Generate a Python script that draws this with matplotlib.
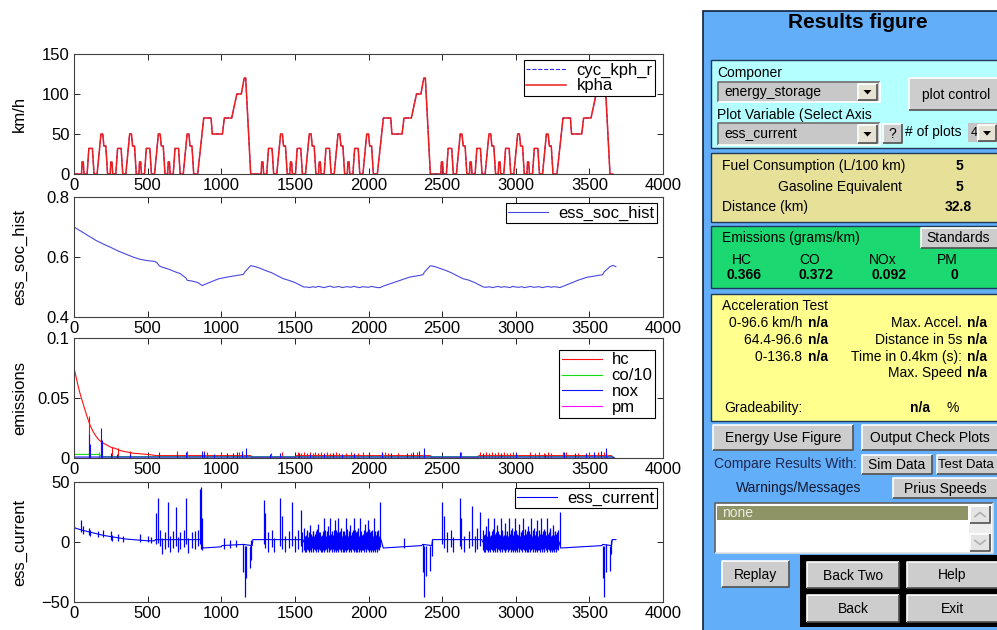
import matplotlib
matplotlib.use('Agg')
import matplotlib.pyplot as plt
from matplotlib.patches import Rectangle, Polygon

plt.rcParams['font.family'] = ['Liberation Sans', 'DejaVu Sans']

# ---------------- data ----------------
kph_t = [0,
    51, 55, 63, 68, 89, 101, 125, 136, 157, 183, 195, 203, 216, 228,
    246, 250, 258, 263, 284, 296, 320, 331, 352, 378, 390, 398, 411, 423,
    441, 445, 453, 458, 479, 491, 515, 526, 547, 573, 585, 593, 606, 618,
    636, 640, 648, 653, 674, 686, 710, 721, 742, 768, 780, 788, 801, 813,
    840, 881, 931, 939, 1008, 1021, 1071, 1106, 1136, 1156, 1166, 1200,
    1271, 1275, 1283, 1288, 1309, 1321, 1345, 1356, 1377, 1403, 1415, 1423, 1436, 1448,
    1466, 1470, 1478, 1483, 1504, 1516, 1540, 1551, 1572, 1598, 1610, 1618, 1631, 1643,
    1661, 1665, 1673, 1678, 1699, 1711, 1735, 1746, 1767, 1793, 1805, 1813, 1826, 1838,
    1856, 1860, 1868, 1873, 1894, 1906, 1930, 1941, 1962, 1988, 2000, 2008, 2021, 2033,
    2060, 2101, 2151, 2159, 2228, 2241, 2291, 2326, 2356, 2376, 2386, 2420,
    2491, 2495, 2503, 2508, 2529, 2541, 2565, 2576, 2597, 2623, 2635, 2643, 2656, 2668,
    2686, 2690, 2698, 2703, 2724, 2736, 2760, 2771, 2792, 2818, 2830, 2838, 2851, 2863,
    2881, 2885, 2893, 2898, 2919, 2931, 2955, 2966, 2987, 3013, 3025, 3033, 3046, 3058,
    3076, 3080, 3088, 3093, 3114, 3126, 3150, 3161, 3182, 3208, 3220, 3228, 3241, 3253,
    3280, 3321, 3371, 3379, 3448, 3461, 3511, 3546, 3576, 3596, 3606, 3640,
    3660]
kph_v = [0,
    0, 15, 15, 0, 0, 32, 32, 0, 0, 50, 50, 35, 35, 0,
    0, 15, 15, 0, 0, 32, 32, 0, 0, 50, 50, 35, 35, 0,
    0, 15, 15, 0, 0, 32, 32, 0, 0, 50, 50, 35, 35, 0,
    0, 15, 15, 0, 0, 32, 32, 0, 0, 50, 50, 35, 35, 0,
    0, 70, 70, 50, 50, 70, 70, 100, 100, 120, 120, 0,
    0, 15, 15, 0, 0, 32, 32, 0, 0, 50, 50, 35, 35, 0,
    0, 15, 15, 0, 0, 32, 32, 0, 0, 50, 50, 35, 35, 0,
    0, 15, 15, 0, 0, 32, 32, 0, 0, 50, 50, 35, 35, 0,
    0, 15, 15, 0, 0, 32, 32, 0, 0, 50, 50, 35, 35, 0,
    0, 70, 70, 50, 50, 70, 70, 100, 100, 120, 120, 0,
    0, 15, 15, 0, 0, 32, 32, 0, 0, 50, 50, 35, 35, 0,
    0, 15, 15, 0, 0, 32, 32, 0, 0, 50, 50, 35, 35, 0,
    0, 15, 15, 0, 0, 32, 32, 0, 0, 50, 50, 35, 35, 0,
    0, 15, 15, 0, 0, 32, 32, 0, 0, 50, 50, 35, 35, 0,
    0, 70, 70, 50, 50, 70, 70, 100, 100, 120, 120, 0,
    0]

soc_t = [0, 50, 100, 150, 200, 250, 300, 350, 400, 450, 500, 550, 565, 580, 600, 640,
    690, 720, 760, 770, 800, 840, 870, 920, 980, 1040, 1100, 1150, 1160, 1200, 1230,
    1260, 1300, 1340, 1380, 1420, 1460, 1500, 1540, 1560,
    1580, 1600, 1620, 1640, 1660, 1680, 1700, 1720, 1740, 1760, 1780, 1800, 1820,
    1840, 1860, 1880, 1900, 1920, 1940, 1960, 1980, 2000, 2020, 2040, 2060, 2080,
    2100, 2160, 2220, 2280, 2340, 2370, 2380, 2420, 2450, 2480, 2520, 2560, 2600,
    2640, 2680, 2720, 2760, 2780,
    2800, 2820, 2840, 2860, 2880, 2900, 2920, 2940, 2960, 2980, 3000, 3020, 3040,
    3060, 3080, 3100, 3120, 3140, 3160, 3180, 3200, 3220, 3240, 3260, 3280, 3300,
    3360, 3420, 3480, 3540, 3590, 3600, 3640, 3660, 3680]
soc_v = [0.700, 0.685, 0.670, 0.655, 0.643, 0.632, 0.620, 0.610, 0.600, 0.592, 0.588,
    0.585, 0.580, 0.570, 0.566, 0.560, 0.550, 0.545, 0.530, 0.522, 0.520, 0.515, 0.505,
    0.515, 0.527, 0.533, 0.538, 0.542, 0.550, 0.571, 0.568, 0.563, 0.555, 0.548, 0.538,
    0.528, 0.522, 0.515, 0.505, 0.500,
    0.500, 0.498, 0.501, 0.499, 0.502, 0.500, 0.498, 0.501, 0.503, 0.499, 0.500, 0.502,
    0.498, 0.500, 0.501, 0.499, 0.502, 0.500, 0.498, 0.501, 0.500, 0.499, 0.502, 0.500,
    0.498, 0.498,
    0.503, 0.513, 0.523, 0.533, 0.538, 0.541, 0.550, 0.571, 0.568, 0.563, 0.556, 0.548,
    0.538, 0.528, 0.523, 0.515, 0.505, 0.500,
    0.499, 0.501, 0.498, 0.500, 0.502, 0.499, 0.501, 0.500, 0.498, 0.502, 0.500, 0.499,
    0.501, 0.498, 0.500, 0.502, 0.499, 0.500, 0.501, 0.498, 0.500, 0.502, 0.499, 0.501,
    0.500, 0.498,
    0.510, 0.522, 0.532, 0.537, 0.541, 0.550, 0.568, 0.572, 0.568]

hc_t = [0, 15, 30, 45, 60, 75, 90, 110, 130, 150, 170, 190, 220, 250, 280, 320, 360,
    400, 450, 500, 560, 1200, 1210, 1500, 1510, 2420, 2430, 2740, 2750, 3650, 3660]
hc_v = [0.075, 0.067, 0.059, 0.052, 0.046, 0.040, 0.034, 0.027, 0.022, 0.018, 0.015,
    0.013, 0.011, 0.009, 0.008, 0.006, 0.005, 0.004, 0.0035, 0.003, 0.002, 0.002, 0,
    0, 0.002, 0.002, 0, 0, 0.002, 0.002, 0]
hc_spikes = [(100, 0.035), (180, 0.016), (260, 0.009), (300, 0.008), (380, 0.006),
    (580, 0.005), (700, 0.006), (770, 0.006), (880, 0.006), (900, 0.005), (1000, 0.004),
    (1120, 0.005), (1340, 0.004), (1410, 0.005), (1520, 0.005), (1540, 0.004),
    (1560, 0.005), (1580, 0.004), (1600, 0.005), (1620, 0.004), (1640, 0.005),
    (1660, 0.004), (1680, 0.005), (1700, 0.004), (1720, 0.005), (1740, 0.004),
    (1760, 0.004), (1780, 0.005), (1800, 0.004), (1850, 0.004), (1880, 0.005),
    (1900, 0.004), (1930, 0.004), (1960, 0.005), (2000, 0.004), (2090, 0.005),
    (2110, 0.005), (2130, 0.004), (2200, 0.004), (2290, 0.004), (2330, 0.005),
    (2630, 0.005), (2760, 0.005), (2780, 0.004), (2800, 0.005), (2820, 0.004),
    (2840, 0.005), (2860, 0.004), (2880, 0.005), (2900, 0.004), (2920, 0.005),
    (2940, 0.004), (2960, 0.004), (2980, 0.005), (3000, 0.004), (3100, 0.005),
    (3130, 0.004), (3160, 0.005), (3190, 0.004), (3220, 0.005), (3240, 0.004),
    (3320, 0.005), (3340, 0.005), (3420, 0.004), (3500, 0.004), (3560, 0.005),
    (3600, 0.005)]

co_t = [0, 170, 180, 200, 3660, 3670]
co_v = [0.003, 0.003, 0.002, 0.001, 0.001, 0]
co_spikes = [(100, 0.004), (170, 0.005), (880, 0.003), (1150, 0.003), (2100, 0.003),
    (2370, 0.003), (3330, 0.003), (3620, 0.003)]

nox_t = [0, 3660, 3670]
nox_v = [0.0008, 0.0008, 0]
nox_spikes = [(100, 0.020), (110, 0.012), (185, 0.025), (190, 0.015), (250, 0.004),
    (290, 0.003), (380, 0.003), (580, 0.004), (700, 0.003), (760, 0.005), (870, 0.006),
    (885, 0.005), (950, 0.003), (1040, 0.004), (1080, 0.004), (1110, 0.005),
    (1140, 0.006), (1165, 0.008), (1330, 0.003), (1400, 0.004), (1530, 0.004),
    (1600, 0.003), (1700, 0.003), (1760, 0.004), (1820, 0.003), (1900, 0.003),
    (2000, 0.004), (2095, 0.005), (2150, 0.004), (2260, 0.004), (2300, 0.005),
    (2340, 0.006), (2375, 0.008), (2620, 0.005), (2780, 0.003), (2900, 0.003),
    (3000, 0.004), (3200, 0.003), (3330, 0.005), (3400, 0.004), (3480, 0.004),
    (3530, 0.005), (3580, 0.006), (3615, 0.008)]

pm_t = [0, 3680]
pm_v = [0, 0]

cur_t = [0, 50, 100, 150, 200, 250, 300, 350, 400, 450, 500, 548, 552, 865, 875,
    1000, 1005, 1148, 1150, 1210, 1215, 1555, 1560, 2075, 2085, 2100, 2360, 2368,
    2430, 2435, 2770, 2775, 3295, 3305, 3585, 3590, 3650, 3655, 3680]
cur_v = [12, 10, 8.5, 7, 5.5, 4.5, 3.5, 2.5, 2, 1.5, 1, 1, 2, 2, -5,
    -4, -3, -2, -2, -3, 2, 2, 0, 0, 2, -5, -3, -2,
    -3, 2, 2, 0, 0, -5, -3, -2, -3, 2, 2]
cur_spikes = [
    (50, 8, 18), (60, 7, 13), (100, 6, 12), (110, 5, 10), (160, 4, 9), (200, 4, 10),
    (250, 2, 9), (260, 1, 6), (300, 1, 7), (330, 0, 5), (450, 0, 7), (500, 0, 5),
    (520, -1, 4),
    (560, -2, 24), (570, -1, 37), (585, -3, 10), (600, -10, 3), (620, -6, 8),
    (640, -4, 33), (655, -8, 5), (670, -5, 9), (690, -3, 29), (705, -8, 4),
    (720, -6, 8), (745, -4, 10), (760, -2, 37), (775, -9, 3), (800, -5, 8),
    (820, -6, 9), (845, -3, 10), (855, -2, 44), (862, -6, 46), (870, -7, 20),
    (1020, -6, 3), (1060, -5, 2), (1100, -4, 2),
    (1150, -25, -2), (1160, -46, -3), (1170, -30, -3), (1195, -22, -3), (1205, -15, 2),
    (1290, -2, 35), (1300, -5, 24), (1320, -8, 8), (1345, -4, 10), (1360, -8, 3),
    (1400, -3, 37), (1410, -6, 22), (1430, -8, 5), (1460, -5, 9), (1480, -3, 33),
    (1500, -8, 5), (1520, -6, 10), (1540, -3, 27), (1550, -8, 8),
    (1565, -7, 12), (1570, -8, 5), (1575, -8, 6), (1580, -6, 8), (1585, -6, 10),
    (1590, -7, 4), (1595, -8, 8), (1600, -6, 6), (1605, -7, 14), (1610, -8, 7),
    (1615, -5, 5), (1620, -7, 9), (1625, -8, 9), (1632, -6, 5), (1640, -7, 7),
    (1645, -8, 9), (1650, -6, 11), (1655, -7, 6), (1660, -8, 15), (1666, -6, 8),
    (1672, -7, 8), (1678, -8, 5), (1685, -8, 6), (1690, -7, 9), (1695, -6, 20),
    (1700, -8, 6), (1705, -7, 10), (1710, -6, 5), (1715, -8, 7), (1720, -7, 9),
    (1725, -5, 13), (1732, -8, 6), (1738, -7, 20), (1744, -6, 7), (1750, -8, 9),
    (1755, -7, 5), (1760, -6, 6), (1765, -8, 10), (1770, -7, 18), (1775, -6, 6),
    (1780, -8, 10), (1785, -7, 8), (1790, -7, 20), (1795, -8, 5), (1800, -6, 8),
    (1806, -7, 9), (1812, -8, 12), (1818, -6, 5), (1825, -7, 6), (1830, -8, 9),
    (1835, -8, 9), (1840, -7, 6), (1845, -6, 20), (1850, -8, 7), (1855, -7, 11),
    (1860, -6, 5), (1865, -8, 7), (1870, -7, 9), (1875, -7, 14), (1882, -8, 6),
    (1888, -6, 8), (1894, -7, 10), (1900, -8, 20), (1905, -6, 6), (1910, -7, 10),
    (1915, -8, 8), (1920, -8, 6), (1925, -7, 9), (1930, -6, 12), (1935, -8, 5),
    (1940, -7, 20), (1945, -6, 7), (1950, -8, 9), (1956, -7, 6), (1962, -7, 7),
    (1968, -8, 10), (1975, -6, 15), (1980, -7, 5), (1985, -8, 8), (1990, -6, 9),
    (1995, -7, 18), (2000, -8, 6), (2005, -5, 11), (2010, -7, 8), (2015, -8, 6),
    (2020, -6, 9), (2025, -7, 10), (2030, -8, 5), (2035, -6, 20), (2040, -7, 7),
    (2045, -8, 9), (2050, -6, 6), (2055, -7, 7), (2060, -8, 9), (2065, -6, 10),
    (2070, -7, 5), (2080, -4, 33),
    (2240, -5, 3),
    (2370, -25, -2), (2380, -46, -3), (2390, -28, -3), (2420, -24, -3), (2430, -12, 2),
    (2500, -2, 33), (2510, -5, 22), (2530, -8, 8), (2560, -4, 10), (2575, -8, 4),
    (2620, -3, 37), (2630, -6, 20), (2650, -8, 5), (2680, -5, 9), (2700, -3, 30),
    (2720, -8, 5), (2740, -6, 12), (2760, -3, 25),
    (2780, -7, 10), (2785, -8, 6), (2790, -8, 7), (2795, -6, 9), (2800, -6, 13),
    (2805, -7, 5), (2810, -8, 20), (2815, -6, 7), (2820, -7, 9), (2826, -8, 5),
    (2832, -6, 6), (2838, -7, 9), (2845, -8, 11), (2850, -6, 6), (2855, -7, 20),
    (2860, -8, 7), (2865, -5, 8), (2870, -7, 5), (2875, -8, 14), (2882, -6, 9),
    (2888, -7, 7), (2894, -8, 6), (2900, -6, 20), (2905, -7, 8), (2910, -8, 10),
    (2915, -6, 5), (2920, -7, 6), (2925, -8, 9), (2930, -8, 16), (2936, -7, 6),
    (2942, -6, 9), (2948, -8, 5), (2955, -7, 20), (2960, -6, 7), (2965, -8, 8),
    (2970, -7, 10), (2975, -7, 12), (2980, -8, 6), (2985, -6, 7), (2990, -7, 9),
    (2995, -8, 20), (3000, -6, 6), (3005, -7, 10), (3010, -8, 7), (3015, -5, 6),
    (3020, -7, 9), (3025, -8, 15), (3031, -6, 5), (3037, -7, 8), (3043, -8, 10),
    (3050, -6, 20), (3055, -7, 6), (3060, -8, 11), (3065, -6, 5), (3070, -7, 7),
    (3075, -8, 9), (3080, -8, 13), (3086, -7, 6), (3092, -6, 9), (3098, -8, 7),
    (3105, -7, 20), (3110, -6, 5), (3115, -8, 8), (3120, -7, 10), (3125, -6, 12),
    (3130, -8, 6), (3135, -7, 6), (3140, -6, 9), (3145, -8, 18), (3151, -7, 5),
    (3157, -7, 10), (3163, -8, 7), (3170, -6, 20), (3175, -7, 6), (3180, -8, 7),
    (3185, -6, 9), (3190, -7, 11), (3195, -8, 5), (3200, -5, 9), (3206, -7, 6),
    (3212, -8, 20), (3218, -6, 7), (3225, -7, 8), (3230, -8, 10), (3235, -6, 12),
    (3240, -7, 5), (3245, -8, 6), (3250, -6, 9), (3255, -7, 14), (3260, -8, 6),
    (3265, -6, 9), (3270, -7, 5), (3275, -8, 7), (3280, -6, 8), (3285, -7, 10),
    (3300, -3, 25),
    (3590, -30, -3), (3600, -46, -3), (3610, -25, -2), (3640, -24, -3), (3650, -10, 2)]

# ---------------- figure ----------------
W, H = 997, 630
fig = plt.figure(figsize=(W / 100, H / 100), dpi=100)


def px_rect(l, t, r, b):
    return [l / W, 1 - b / H, (r - l) / W, (b - t) / H]


axp = fig.add_axes([0, 0, 1, 1])
axp.set_xlim(0, W)
axp.set_ylim(H, 0)
axp.axis('off')
axp.set_zorder(-1)

ax1 = fig.add_axes(px_rect(74, 54, 663, 174))
ax2 = fig.add_axes(px_rect(74, 197, 663, 317))
ax3 = fig.add_axes(px_rect(74, 338, 663, 458))
ax4 = fig.add_axes(px_rect(74, 482, 663, 602))

LW = 0.8
ax1.plot(kph_t, kph_v, color='#2a2aff', lw=0.8, ls='--', label='cyc_kph_r')
ax1.plot(kph_t, kph_v, color='#ee1c1c', lw=1.1, label='kpha')
ax1.set_ylim(0, 150)
ax1.set_yticks([0, 50, 100, 150])
ax1.set_ylabel('km/h')

ax2.plot(soc_t, soc_v, color='#4848e0', lw=LW, label='ess_soc_hist')
ax2.set_ylim(0.4, 0.8)
ax2.set_yticks([0.4, 0.6, 0.8])
ax2.set_yticklabels(['0.4', '0.6', '0.8'])
ax2.set_ylabel('ess_soc_hist')

RED, GREEN, BLUE, MAG = '#ff1010', '#10dd10', '#1010ff', '#ff10ff'
ax3.plot(hc_t, hc_v, color=RED, lw=LW, label='hc')
ax3.vlines([s[0] for s in hc_spikes], 0, [s[1] for s in hc_spikes], color=RED, lw=LW)
ax3.plot(co_t, co_v, color=GREEN, lw=LW, label='co/10')
ax3.vlines([s[0] for s in co_spikes], 0, [s[1] for s in co_spikes], color=GREEN, lw=LW)
ax3.plot(nox_t, nox_v, color=BLUE, lw=LW, label='nox')
ax3.vlines([s[0] for s in nox_spikes], 0, [s[1] for s in nox_spikes], color=BLUE, lw=LW)
ax3.plot(pm_t, pm_v, color=MAG, lw=LW, label='pm')
ax3.set_ylim(0, 0.1)
ax3.set_yticks([0, 0.05, 0.1])
ax3.set_yticklabels(['0', '0.05', '0.1'])
ax3.set_ylabel('emissions')

ax4.plot(cur_t, cur_v, color='#0000ff', lw=LW, label='ess_current')
ax4.vlines([s[0] for s in cur_spikes], [s[1] for s in cur_spikes],
           [s[2] for s in cur_spikes], color='#0000ff', lw=0.9)
ax4.set_ylim(-50, 50)
ax4.set_yticks([-50, 0, 50])
ax4.set_ylabel('ess_current')

for ax, (dx, dy) in zip([ax1, ax2, ax3, ax4], [(8, 6), (6, 6), (8, 12), (6, 6)]):
    ax.set_xlim(0, 4000)
    ax.set_xticks(range(0, 4001, 500))
    ax.tick_params(direction='in', top=True, right=True, length=4, width=0.6,
                   labelsize=12, pad=3, colors='black')
    for sp in ax.spines.values():
        sp.set_color('#404040')
        sp.set_linewidth(0.8)
    ax.yaxis.set_label_coords(-0.080, 0.5)
    ax.yaxis.label.set_fontsize(12)
    leg = ax.legend(loc='upper right', bbox_to_anchor=(1 - dx / 589, 1 - dy / 120),
                    borderaxespad=0, fancybox=False, edgecolor='black', framealpha=1,
                    fontsize=12, handlelength=2.4, handletextpad=0.6, borderpad=0.15,
                    labelspacing=0.05)
    leg.get_frame().set_linewidth(0.8)

# ---------------- GUI panel ----------------
BLUE_BG = '#62AEF8'
CYAN = '#B4FFFF'
KHAKI = '#E6E098'
GREENB = '#1CD870'
YELLOW = '#FFFF8E'
BTN = '#CDCDCD'


def box(x0, y0, x1, y1, fc, ec='none', lw=0.0, z=1):
    axp.add_patch(Rectangle((x0, y0), x1 - x0, y1 - y0, fc=fc, ec=ec, lw=lw, zorder=z))


def bevel(x0, y0, x1, y1, light='white', dark='#505050', z=3):
    axp.plot([x0, x0, x1], [y1, y0, y0], color=light, lw=1.2, zorder=z,
             solid_capstyle='butt')
    axp.plot([x0, x1, x1], [y1, y1, y0], color=dark, lw=1.2, zorder=z,
             solid_capstyle='butt')


def txt(x, y, s, ha='left', fs=10, bold=False, color='black', z=4):
    axp.text(x, y, s, ha=ha, va='center', fontsize=fs, color=color,
             fontweight='bold' if bold else 'normal', zorder=z, clip_on=True)


def button(x0, y0, x1, y1, label, tx=None, fs=10):
    box(x0, y0, x1, y1, BTN, z=2)
    bevel(x0, y0, x1, y1)
    txt((x0 + x1) / 2 if tx is None else tx, (y0 + y1) / 2 + 0.5, label, ha='center', fs=fs)


def arrow_btn(x0, y0, x1, y1):
    box(x0, y0, x1, y1, '#E6E2D4', z=3)
    bevel(x0, y0, x1, y1, z=4)
    cx, cy = (x0 + x1) / 2, (y0 + y1) / 2
    axp.add_patch(Polygon([[cx - 4, cy - 2], [cx + 4, cy - 2], [cx, cy + 2.5]],
                          closed=True, fc='black', ec='none', zorder=5))


def dropdown(x0, y0, x1, y1, label):
    box(x0, y0, x1, y1, '#C8C8C8', z=2)
    bevel(x0, y0, x1, y1, light='#707070', dark='white')
    txt(x0 + 6, (y0 + y1) / 2, label)
    arrow_btn(x1 - 22, y0 + 2, x1 - 3, y1 - 2)


box(703, 11, 1000, 631, BLUE_BG, ec='#102040', lw=1.2, z=0.5)
txt(858, 23, 'Results figure', ha='center', fs=15, bold=True)

# component section
box(711, 60, 1000, 148, CYAN, ec='#203858', lw=1.0)
txt(717, 73, 'Componer')
dropdown(718, 82, 880, 102, 'energy_storage')
button(909, 78, 1005, 110, 'plot control', tx=956)
txt(717, 115, 'Plot Variable (Select Axis')
dropdown(718, 123, 880, 145, 'ess_current')
button(883, 124, 902, 143, '?')
txt(905, 132, '# of plots')
box(968, 123, 1000, 142, '#C4C4C4', z=2)
txt(971, 133, '4', fs=9)
arrow_btn(978, 125, 996, 141)

# fuel section
box(711, 153, 1000, 222, KHAKI, ec='#203858', lw=1.0)
txt(722, 166, 'Fuel Consumption (L/100 km)')
txt(959, 166, '5', ha='center', bold=True)
txt(778, 187, 'Gasoline Equivalent')
txt(959, 187, '5', ha='center', bold=True)
txt(722, 207, 'Distance (km)')
txt(958, 207, '32.8', ha='center', bold=True)

# emissions section
box(711, 226, 1000, 288, GREENB, ec='#203858', lw=1.0)
txt(722, 238, 'Emissions (grams/km)')
button(921, 228, 1005, 248, 'Standards', tx=958)
for xc, xv, lab, val in [(742, 744, 'HC', '0.366'), (810, 816, 'CO', '0.372'),
                         (883, 889, 'NOx', '0.092'), (947, 954, 'PM', '0')]:
    txt(xc, 260, lab, ha='center')
    txt(xv, 275, val, ha='center', bold=True)

# acceleration section
box(711, 294, 1000, 421, YELLOW, ec='#203858', lw=1.0)
txt(722, 306, 'Acceleration Test')
for y, lab in [(323, '0-96.6 km/h '), (340, '64.4-96.6 '), (357, '0-136.8 ')]:
    axp.text(828, y, 'n/a', ha='right', va='center', fontsize=10, fontweight='bold', zorder=4)
    axp.text(806, y, lab, ha='right', va='center', fontsize=10, zorder=4)
for y, lab in [(323, 'Max. Accel. '), (340, 'Distance in 5s '),
               (357, 'Time in 0.4km (s): '), (373, 'Max. Speed ')]:
    axp.text(987, y, 'n/a', ha='right', va='center', fontsize=10, fontweight='bold', zorder=4)
    axp.text(966, y, lab, ha='right', va='center', fontsize=10, zorder=4)
txt(724, 408, 'Gradeability:')
txt(920, 408, 'n/a', ha='center', bold=True)
txt(953, 408, '%', ha='center')

# buttons
button(713, 425, 853, 450, 'Energy Use Figure')
button(862, 425, 1005, 450, 'Output Check Plots', tx=930)
txt(714, 464, 'Compare Results With:', color='#202850')
button(862, 455, 932, 474, 'Sim Data')
button(937, 455, 1005, 474, 'Test Data', tx=966, fs=9.5)
txt(799, 488, 'Warnings/Messages', ha='center', color='#101830')
button(893, 478, 1005, 498, 'Prius Speeds', tx=945)

# message list
box(715, 503, 993, 553, 'white', z=2)
bevel(715, 503, 993, 553, light='#606060', dark='#E0E0E0')
box(717, 506, 968, 520, '#8E9466', z=3)
txt(722, 513, 'none', color='#EDEDE0')
box(969, 505, 991, 551, '#EEEEEE', z=3)
for (y0, y1, up) in [(506, 523, True), (534, 551, False)]:
    box(970, y0, 990, y1, '#E4E4E4', z=4)
    bevel(970, y0, 990, y1, z=5)
    cy = (y0 + y1) / 2
    if up:
        axp.plot([975, 980, 985], [cy + 2, cy - 2, cy + 2], color='#B0B0B0', lw=1.2, zorder=6)
    else:
        axp.plot([975, 980, 985], [cy - 2, cy + 2, cy - 2], color='#B0B0B0', lw=1.2, zorder=6)

# bottom navigation
button(722, 561, 789, 587, 'Replay')
box(800, 555, 1000, 627, 'black', z=1.5)
button(807, 562, 899, 588, 'Back Two')
button(907, 562, 1005, 588, 'Help', tx=952)
button(807, 595, 899, 622, 'Back')
button(907, 595, 1005, 622, 'Exit', tx=952)

fig.savefig('out.png', dpi=100)
